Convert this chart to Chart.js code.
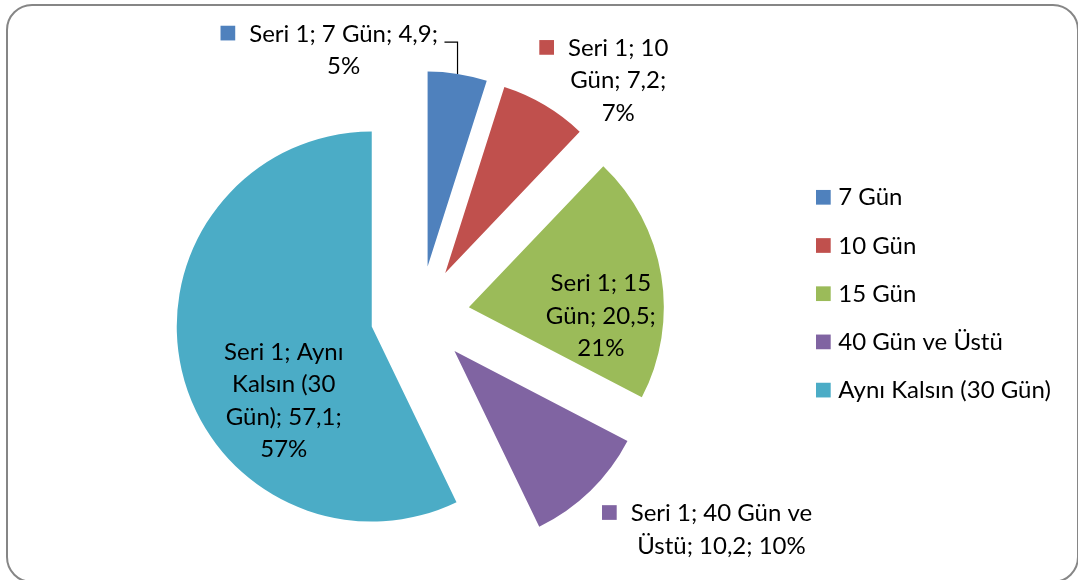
<!DOCTYPE html>
<html>
<head>
<meta charset="utf-8">
<script src="https://cdn.jsdelivr.net/npm/chart.js@4/dist/chart.umd.min.js"></script>
<style>
  html, body { margin: 0; padding: 0; background: #fff; overflow: hidden; }
  #frame {
    position: absolute; left: 6px; top: 4px; width: 1073px; height: 579px;
    box-sizing: border-box; border: 2px solid #868686; border-radius: 26px;
  }
  #chart { position: absolute; left: 0; top: 0; }
</style>
</head>
<body>
<div id="frame"></div>
<canvas id="chart" width="1078" height="580"></canvas>
<script>
const seriesName = 'Seri 1';
const categories = ['7 Gün', '10 Gün', '15 Gün', '40 Gün ve Üstü', 'Aynı Kalsın (30 Gün)'];
const values = [4.9, 7.2, 20.5, 10.2, 57.1];
const colors = ['#4F81BD', '#C0504D', '#9BBB59', '#8064A2', '#4BACC6'];

const FONT = '24px Lato';
const LINE_H = 32.5;

// label placement, measured from the tip of each exploded slice
const labelSpots = [
  {dx: -84, dy: -225, wrap: 205, key: true, leader: true},
  {dx: 173, dy: -217, wrap: 112, key: true},
  {dx: 132, dy: -16, wrap: 118},
  {dx: 267, dy: 170, wrap: 192, key: true},
  {dx: -88, dy: 33, wrap: 130}
];

function wrap(ctx, text, maxW) {
  const words = text.split(' ');
  const lines = [];
  let cur = '';
  words.forEach(w => {
    const test = cur ? cur + ' ' + w : w;
    if (cur && ctx.measureText(test).width > maxW) {
      lines.push(cur);
      cur = w;
    } else {
      cur = test;
    }
  });
  if (cur) lines.push(cur);
  return lines;
}

const sliceLabels = {
  id: 'sliceLabels',
  afterDatasetUpdate(chart, args) {
    // chart.js grows and narrows exploded arcs a bit; undo that so all
    // slices keep the same radius and their true angles
    const meta = args.meta;
    const R = meta.controller.outerRadius;
    meta.data.forEach(arc => {
      const push = (arc.options.offset || 0) / 4;
      const fix = 1 - Math.sin(Math.min(Math.PI, arc.circumference));
      const radOff = push * fix;
      arc.outerRadius = R - radOff;
      const widen = radOff / (Math.PI * R) / 2;
      arc.startAngle -= widen;
      arc.endAngle += widen;
    });
  },
  afterDatasetsDraw(chart) {
    const ctx = chart.ctx;
    const meta = chart.getDatasetMeta(0);
    const R = meta.controller.outerRadius;
    const total = values.reduce((a, b) => a + b, 0);
    ctx.save();
    ctx.font = FONT;
    ctx.textBaseline = 'alphabetic';
    meta.data.forEach((arc, i) => {
      const mid = (arc.startAngle + arc.endAngle) / 2;
      const push = (arc.options.offset || 0) / 4;
      const tipX = arc.x + Math.cos(mid) * push;
      const tipY = arc.y + Math.sin(mid) * push;
      const spot = labelSpots[i];
      const pct = Math.round(values[i] / total * 100) + '%';
      const text = [seriesName, categories[i], String(values[i]).replace('.', ','), pct].join('; ');
      const lines = wrap(ctx, text, spot.wrap);
      const cx = tipX + spot.dx;
      const y0 = tipY + spot.dy;
      ctx.fillStyle = '#000';
      ctx.textAlign = 'center';
      lines.forEach((ln, k) => ctx.fillText(ln, cx, y0 + k * LINE_H));
      const w0 = ctx.measureText(lines[0]).width;
      if (spot.key) {
        ctx.fillStyle = colors[i];
        ctx.fillRect(cx - w0 / 2 - 14 - 14.7, y0 - 8.5 - 7.35, 14.7, 14.7);
      }
      if (spot.leader) {
        const ex = tipX + Math.cos(mid) * R;
        const ey = tipY + Math.sin(mid) * R;
        ctx.strokeStyle = '#000';
        ctx.lineWidth = 1.2;
        ctx.beginPath();
        ctx.moveTo(cx + w0 / 2 + 6.5, y0 + 0.6);
        ctx.lineTo(ex, y0 + 0.6);
        ctx.lineTo(ex, ey);
        ctx.stroke();
      }
    });

    // legend
    ctx.textAlign = 'left';
    categories.forEach((c, i) => {
      const cy = 197.3 + i * 48.2;
      ctx.fillStyle = colors[i];
      ctx.fillRect(816, cy - 7.35, 14.7, 14.7);
      ctx.fillStyle = '#000';
      ctx.fillText(c, 838.3, cy + 8);
    });
    ctx.restore();
  }
};

new Chart(document.getElementById('chart'), {
  type: 'pie',
  data: {
    labels: categories,
    datasets: [{
      label: seriesName,
      data: values,
      backgroundColor: colors,
      borderWidth: 0,
      offset: 198
    }]
  },
  options: {
    responsive: false,
    devicePixelRatio: 1,
    animation: false,
    events: [],
    radius: 195,
    layout: { padding: { left: 0, right: 238, top: 51, bottom: 0 } },
    plugins: {
      legend: { display: false },
      tooltip: { enabled: false }
    }
  },
  plugins: [sliceLabels]
});
</script>
</body>
</html>
